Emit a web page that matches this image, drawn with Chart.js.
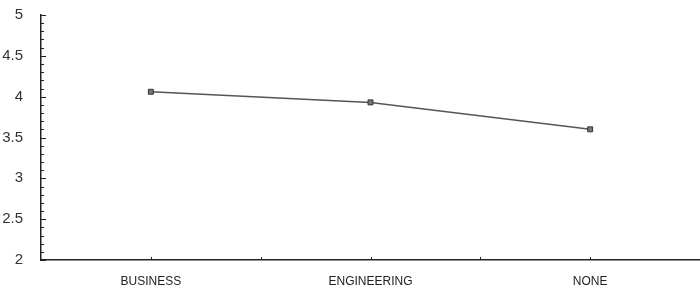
<!DOCTYPE html>
<html>
<head>
<meta charset="utf-8">
<script src="https://cdn.jsdelivr.net/npm/chart.js@4/dist/chart.umd.min.js"></script>
<style>
  html, body { margin: 0; padding: 0; background: #fff; }
  #wrap { width: 700px; height: 294px; }
</style>
</head>
<body>
<div id="wrap"><canvas id="chart"></canvas></div>
<script>
const categories = ['BUSINESS', 'ENGINEERING', 'NONE'];
const scores = [4.06, 3.93, 3.60];
const yTicks = [2, 2.5, 3, 3.5, 4, 4.5, 5];

// small tick marks drawn on the inside of both axes, like the scanned figure
const innerTicks = {
    id: 'innerTicks',
    afterDraw(chart) {
        const ctx = chart.ctx;
        const x = chart.scales.x;
        const y = chart.scales.y;
        ctx.save();
        ctx.strokeStyle = '#222';
        ctx.lineWidth = 1;
        ctx.beginPath();
        for (let i = 0; i <= 30; i++) {
            const v = 2 + i / 10;
            const py = Math.round(y.getPixelForValue(v)) + 0.5;
            const len = i % 5 === 0 ? 5 : 3;
            ctx.moveTo(x.left, py);
            ctx.lineTo(x.left + len, py);
        }
        for (let i = 0; i < categories.length; i++) {
            const px = Math.round(x.getPixelForValue(i)) + 0.5;
            ctx.moveTo(px, y.bottom);
            ctx.lineTo(px, y.bottom - 3);
            if (i < categories.length - 1) {
                const mid = Math.round((x.getPixelForValue(i) + x.getPixelForValue(i + 1)) / 2) + 0.5;
                ctx.moveTo(mid, y.bottom);
                ctx.lineTo(mid, y.bottom - 3);
            }
        }
        ctx.stroke();
        ctx.restore();
    }
};

new Chart(
    document.getElementById('chart'),
    {
        type: 'line',
        data: {
            labels: categories,
            datasets: [
                {
                    data: scores,
                    borderColor: '#555',
                    borderWidth: 1.5,
                    pointStyle: 'rect',
                    pointRadius: 3.5,
                    pointBackgroundColor: '#777',
                    pointBorderColor: '#333',
                    pointBorderWidth: 1
                }
            ]
        },
        options: {
            responsive: true,
            maintainAspectRatio: false,
            animation: false,
            layout: { autoPadding: false, padding: { top: 15, right: -4, left: 0, bottom: 0 } },
            plugins: {
                legend: { display: false },
                tooltip: { enabled: false }
            },
            scales: {
                x: {
                    offset: true,
                    grid: { display: false },
                    border: { display: true, color: '#222', width: 1.5 },
                    ticks: {
                        color: '#222',
                        padding: 6,
                        maxRotation: 0,
                        font: { family: 'Liberation Sans, Arial, sans-serif', size: 12 }
                    },
                    afterFit: scale => {
                        scale.height = 34;
                        scale.paddingLeft = 0;
                        scale.paddingRight = -4;
                    }
                },
                y: {
                    min: 2,
                    max: 5,
                    grid: { display: false },
                    border: { display: true, color: '#222', width: 1.5 },
                    afterBuildTicks: scale => {
                        scale.ticks = yTicks.map(v => ({ value: v }));
                    },
                    ticks: {
                        color: '#333',
                        padding: 10,
                        callback: value => `${value}`,
                        font: { family: 'Liberation Sans, Arial, sans-serif', size: 15 }
                    },
                    afterFit: scale => {
                        scale.width = 41;
                        scale.paddingTop = 0;
                        scale.paddingBottom = 0;
                    }
                }
            }
        },
        plugins: [innerTicks]
    }
);
</script>
</body>
</html>
